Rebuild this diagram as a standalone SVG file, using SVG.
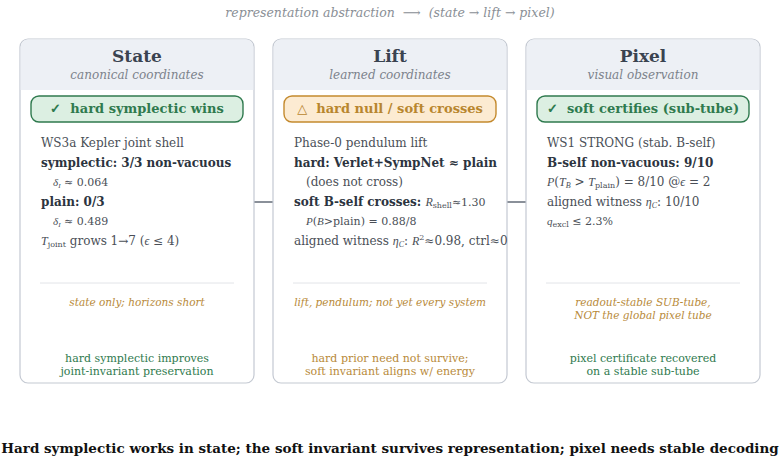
<svg xmlns="http://www.w3.org/2000/svg" width="780" height="462" viewBox="0 0 780 462">
<style>
text{font-family:"DejaVu Serif",serif}
.card{fill:#fff;stroke:#c4c9d2;stroke-width:1.2}
.hdr{fill:#edf0f5}
.title{font-size:17px;font-weight:bold;fill:#3a4350;text-anchor:middle}
.sub{font-size:12px;font-style:italic;fill:#7c828b;text-anchor:middle}
.b{font-size:12px;fill:#4a4f57}
.bb{font-size:12px;font-weight:bold;fill:#2c3440}
.m{font-family:"Liberation Serif","DejaVu Serif",serif;font-style:italic}
.sm{font-size:11px}
.note{font-size:10.5px;font-style:italic;fill:#b88a3a;text-anchor:middle}
.foot{font-size:11px;fill:#2f7a4e;text-anchor:middle}
.gfoot{font-size:11px;fill:#b88a3a;text-anchor:middle}
.sep{stroke:#e2e4e8;stroke-width:1}
.conn{stroke:#8a9099;stroke-width:2}
.okb{fill:#dcefe2;stroke:#2f7a4e;stroke-width:1.4}
.wb{fill:#fcebd2;stroke:#c48a2e;stroke-width:1.4}
.okt{font-size:13px;font-weight:bold;fill:#2f7a4e;text-anchor:middle}
.wt{font-size:13px;font-weight:bold;fill:#b8862e;text-anchor:middle}
</style>
<text x="390" y="17" text-anchor="middle" font-size="12.5" font-style="italic" fill="#8a8f96" xml:space="preserve">representation abstraction  ⟶  (state → lift → pixel)</text>
<g id="connectors">
<line class="conn" x1="254" y1="202" x2="273" y2="202"/>
<line class="conn" x1="507" y1="202" x2="526" y2="202"/>
</g>
<g id="state">
<rect class="card" x="20" y="39" width="234" height="344" rx="8"/>
<path class="hdr" d="M28,39.6 H246 A7.4,7.4 0 0 1 253.4,47 V90 H20.6 V47 A7.4,7.4 0 0 1 28,39.6Z"/>
<text class="title" x="137" y="62">State</text>
<text class="sub" x="137" y="79">canonical coordinates</text>
<rect class="okb" x="31" y="96" width="212" height="26" rx="8"/>
<text class="okt" x="137" y="113" xml:space="preserve">✓  hard symplectic wins</text>
<text class="b" x="41" y="147">WS3a Kepler joint shell</text>
<text class="bb" x="41" y="167">symplectic: 3/3 non-vacuous</text>
<text class="b sm" x="53" y="186"><tspan class="m">δ</tspan><tspan class="m" font-size="7" dy="2">I</tspan><tspan dy="-2"> ≈ 0.064</tspan></text>
<text class="bb" x="41" y="206">plain: 0/3</text>
<text class="b sm" x="53" y="225"><tspan class="m">δ</tspan><tspan class="m" font-size="7" dy="2">I</tspan><tspan dy="-2"> ≈ 0.489</tspan></text>
<text class="b" x="41" y="245"><tspan class="m">T</tspan><tspan font-size="8" dy="2">joint</tspan><tspan dy="-2"> grows 1→7 (</tspan><tspan class="m">ϵ</tspan> ≤ 4)</text>
<line class="sep" x1="40" y1="283" x2="234" y2="283"/>
<text class="note" x="137" y="306">state only; horizons short</text>
<text class="foot" x="137" y="362">hard symplectic improves</text>
<text class="foot" x="137" y="375">joint-invariant preservation</text>
</g>
<g id="lift">
<rect class="card" x="273" y="39" width="234" height="344" rx="8"/>
<path class="hdr" d="M281,39.6 H499 A7.4,7.4 0 0 1 506.4,47 V90 H273.6 V47 A7.4,7.4 0 0 1 281,39.6Z"/>
<text class="title" x="390" y="62">Lift</text>
<text class="sub" x="390" y="79">learned coordinates</text>
<rect class="wb" x="284" y="96" width="212" height="26" rx="8"/>
<text class="wt" x="390" y="113" xml:space="preserve">△  hard null / soft crosses</text>
<text class="b" x="294" y="147">Phase-0 pendulum lift</text>
<text class="bb" x="294" y="167">hard: Verlet+SympNet ≈ plain</text>
<text class="b" x="306" y="186">(does not cross)</text>
<text x="294" y="206" class="b"><tspan class="bb">soft B-self crosses: </tspan><tspan class="m">R</tspan><tspan font-size="8" dy="2">shell</tspan><tspan dy="-2" font-size="11">≈1.30</tspan></text>
<text class="b sm" x="306" y="225"><tspan class="m">P</tspan>(<tspan class="m">B</tspan>&gt;plain) = 0.88/8</text>
<text class="b" x="294" y="245">aligned witness <tspan class="m">η</tspan><tspan class="m" font-size="8" dy="2">C</tspan><tspan dy="-2">: </tspan><tspan class="m">R</tspan><tspan font-size="8" dy="-5">2</tspan><tspan dy="5">≈0.98, ctrl≈0</tspan></text>
<line class="sep" x1="293" y1="283" x2="487" y2="283"/>
<text class="note" x="390" y="306">lift, pendulum; not yet every system</text>
<text class="gfoot" x="390" y="362">hard prior need not survive;</text>
<text class="gfoot" x="390" y="375">soft invariant aligns w/ energy</text>
</g>
<g id="pixel">
<rect class="card" x="526" y="39" width="234" height="344" rx="8"/>
<path class="hdr" d="M534,39.6 H752 A7.4,7.4 0 0 1 759.4,47 V90 H526.6 V47 A7.4,7.4 0 0 1 534,39.6Z"/>
<text class="title" x="643" y="62">Pixel</text>
<text class="sub" x="643" y="79">visual observation</text>
<rect class="okb" x="537" y="96" width="212" height="26" rx="8"/>
<text class="okt" x="643" y="113" xml:space="preserve">✓  soft certifies (sub-tube)</text>
<text class="b" x="547" y="147">WS1 STRONG (stab. B-self)</text>
<text class="bb" x="547" y="167">B-self non-vacuous: 9/10</text>
<text class="b" x="547" y="186"><tspan class="m">P</tspan>(<tspan class="m">T</tspan><tspan class="m" font-size="8" dy="2">B</tspan><tspan dy="-2"> &gt; </tspan><tspan class="m">T</tspan><tspan font-size="8" dy="2">plain</tspan><tspan dy="-2">) = 8/10 @</tspan><tspan class="m">ϵ</tspan> = 2</text>
<text class="b" x="547" y="206">aligned witness <tspan class="m">η</tspan><tspan class="m" font-size="8" dy="2">C</tspan><tspan dy="-2">: 10/10</tspan></text>
<text class="b sm" x="547" y="225"><tspan class="m">q</tspan><tspan font-size="8" dy="2">excl</tspan><tspan dy="-2"> ≤ 2.3%</tspan></text>
<line class="sep" x1="546" y1="283" x2="740" y2="283"/>
<text class="note" x="643" y="306">readout-stable SUB-tube,</text>
<text class="note" x="643" y="319">NOT the global pixel tube</text>
<text class="foot" x="643" y="362">pixel certificate recovered</text>
<text class="foot" x="643" y="375">on a stable sub-tube</text>
</g>
<text x="390" y="453" text-anchor="middle" font-size="13.5" font-weight="bold" fill="#111">Hard symplectic works in state; the soft invariant survives representation; pixel needs stable decoding</text>
</svg>
